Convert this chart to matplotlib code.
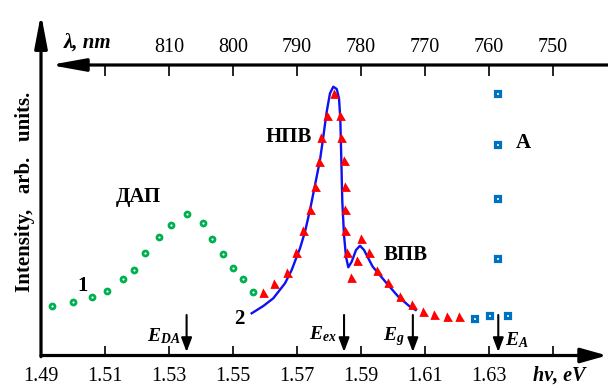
import matplotlib
matplotlib.use("Agg")
import matplotlib.pyplot as plt

plt.rcParams['font.family'] = ['Liberation Serif', 'DejaVu Serif']
plt.rcParams['mathtext.fontset'] = 'custom'
plt.rcParams['mathtext.it'] = 'Liberation Serif:italic:bold'
plt.rcParams['mathtext.rm'] = 'Liberation Serif:bold'
plt.rcParams['mathtext.bf'] = 'Liberation Serif:bold'

# ---- data (photon energy, eV ; intensity, arb. units) ----
dap_E = [1.49334, 1.50009, 1.50603, 1.51072, 1.51553, 1.51916, 1.52250, 1.52688,
         1.53053, 1.53572, 1.54053, 1.54353, 1.54678, 1.55009, 1.55322, 1.55616]
dap_I = [49.8, 53.2, 58.8, 64.8, 76.2, 85.5, 102.5, 118.2,
         130.8, 141.2, 132.5, 116.5, 101.8, 87.2, 76.2, 63.8]

exc_E = [1.55928, 1.56281, 1.56678, 1.56969, 1.57178, 1.57406, 1.57563, 1.57697,
         1.57759, 1.57928, 1.58156, 1.58344, 1.58375, 1.58478, 1.58491, 1.58509,
         1.58509, 1.58553, 1.58688, 1.58884, 1.59000, 1.59259, 1.59491, 1.59853,
         1.60219, 1.60584, 1.60922, 1.61291, 1.61678, 1.62053]
exc_I = [62.8, 71.2, 82.8, 102.2, 124.5, 145.5, 168.2, 193.8,
         217.2, 239.8, 261.5, 239.8, 217.8, 194.8, 168.8, 145.5,
         124.5, 102.2, 77.2, 94.8, 116.5, 102.8, 84.5, 72.2,
         58.8, 50.5, 43.3, 40.2, 38.8, 38.2]

fit_E = [1.55584, 1.55947, 1.56259, 1.56625, 1.56834, 1.56991, 1.57094, 1.57250,
         1.57406, 1.57563, 1.57719, 1.57822, 1.57928, 1.58031, 1.58134, 1.58241,
         1.58313, 1.58353, 1.58384, 1.58416, 1.58469, 1.58531, 1.58603, 1.58709,
         1.58844, 1.58969, 1.59094, 1.59228, 1.59366, 1.59541, 1.59803, 1.60166,
         1.60531, 1.60709]
fit_I = [42.2, 49.5, 57.2, 72.2, 85.5, 98.8, 107.2, 123.8,
         145.5, 170.5, 195.5, 218.8, 243.8, 262.2, 268.8, 266.5,
         257.2, 237.2, 197.2, 153.8, 120.5, 98.8, 88.2, 93.8,
         105.5, 109.8, 105.5, 97.2, 88.8, 82.2, 72.2, 58.8,
         48.8, 45.5]

a_E = [1.62531, 1.63000, 1.63572, 1.63241, 1.63241, 1.63241, 1.63241]
a_I = [38.0, 40.3, 40.3, 97.2, 157.2, 211.5, 262.8]

ev_ticks = [1.49, 1.51, 1.53, 1.55, 1.57, 1.59, 1.61, 1.63, 1.65]
ev_labels = ['1.49', '1.51', '1.53', '1.55', '1.57', '1.59', '1.61', '1.63', '']
nm_ticks = [1.51, 1.53, 1.55, 1.57, 1.59, 1.61, 1.63, 1.65]
nm_labels = ['', '810', '800', '790', '780', '770', '760', '750']

marks_E = [1.5355, 1.5847, 1.6062, 1.6329]
marks_lbl = [r'$E_{DA}$', r'$E_{ex}$', r'$E_{g}$', r'$E_{A}$']

# ---- figure ----
W, H = 608, 388
fig = plt.figure(figsize=(W / 100, H / 100), dpi=100)
ax = fig.add_axes([41 / W, (H - 355.5) / H, 567 / W, 290.5 / H])
x0, x1 = 1.49, 1.49 + 567 / 3200
ax.set_xlim(x0, x1)
ax.set_ylim(0, 290.5)
for s in ax.spines.values():
    s.set_visible(False)
ax.set_yticks([])

green = '#00b050'
red = '#ff0000'
blue_sq = '#0070c0'
blue_ln = '#1010f0'

ax.plot(dap_E, dap_I, ls='none', marker='o', ms=3.6, mew=2.0, mfc='white', mec=green, clip_on=False)
ax.plot(fit_E, fit_I, color=blue_ln, lw=1.7, zorder=3)
ax.plot(exc_E, exc_I, ls='none', marker='^', ms=3.6, mew=2.0, mfc='white', mec=red, zorder=4)
ax.plot(a_E, a_I, ls='none', marker='s', ms=3.6, mew=2.3, mfc='white', mec=blue_sq, zorder=4)

# bottom ticks
ax.set_xticks(ev_ticks)
ax.set_xticklabels(ev_labels)
ax.tick_params(axis='x', direction='in', length=7.5, width=1.2, pad=8, labelsize=14.5)

# top (wavelength) axis
sec = ax.secondary_xaxis('top')
sec.set_xticks(nm_ticks)
sec.set_xticklabels(nm_labels)
sec.tick_params(axis='x', direction='in', length=8, width=1.2, pad=6, labelsize=14.5)
for s in sec.spines.values():
    s.set_visible(False)

akw = dict(color='black', lw=2.3, shrinkA=0, shrinkB=0)
# x axis with arrow
ax.annotate('', xy=(1.49 + 566 / 3200, 0), xytext=(x0, 0), annotation_clip=False,
            arrowprops=dict(arrowstyle='-|>,head_length=1.6,head_width=0.45', mutation_scale=10, **akw))
# y axis with arrow
ax.annotate('', xy=(x0, 341.5), xytext=(x0, -1.2), annotation_clip=False,
            arrowprops=dict(arrowstyle='-|>,head_length=2.0,head_width=0.38', mutation_scale=10, **akw))
# top axis with arrow to the left
ax.annotate('', xy=(1.49 + 9 / 3200, 290.5), xytext=(x1, 290.5), annotation_clip=False,
            arrowprops=dict(arrowstyle='-|>,head_length=2.1,head_width=0.38', mutation_scale=10, **akw))

# energy markers
for e in marks_E:
    ax.annotate('', xy=(e, 3.5), xytext=(e, 40.5), annotation_clip=False,
                arrowprops=dict(arrowstyle='-|>,head_length=0.85,head_width=0.32', mutation_scale=10,
                                color='black', lw=1.5, shrinkA=0, shrinkB=0))

ax.text(1.53375, 14.5, marks_lbl[0], ha='right', va='baseline', fontsize=14)
ax.text(1.5825, 16.0, marks_lbl[1], ha='right', va='baseline', fontsize=14)
ax.text(1.60375, 15.0, marks_lbl[2], ha='right', va='baseline', fontsize=14)
ax.text(1.6350, 10.5, marks_lbl[3], ha='left', va='baseline', fontsize=14)

# annotations
ax.text(1.52031, 158.5, 'ДАП', ha='center', va='center', fontsize=15, fontweight='bold')
ax.text(1.5675, 218.5, 'НПВ', ha='center', va='center', fontsize=15, fontweight='bold')
ax.text(1.60406, 100.5, 'ВПВ', ha='center', va='center', fontsize=15, fontweight='bold')
ax.text(1.64063, 212.5, 'A', ha='center', va='center', fontsize=15, fontweight='bold')
ax.text(1.50313, 69.5, '1', ha='center', va='center', fontsize=15, fontweight='bold')
ax.text(1.55188, 36.5, '2', ha='center', va='center', fontsize=15, fontweight='bold')

ax.text(1.50469, 312.5, 'λ, nm', ha='center', va='center', fontsize=15,
        fontweight='bold', fontstyle='italic')
ax.text(1.65188, -20.0, 'hν, eV', ha='center', va='center', fontsize=14.5,
        fontweight='bold', fontstyle='italic')

fig.text(25 / W, 1 - 192 / H, 'Intensity,   arb.   units.', rotation=90, ha='center', va='center',
         fontsize=15, fontweight='bold')

fig.savefig('out.png', dpi=100)
